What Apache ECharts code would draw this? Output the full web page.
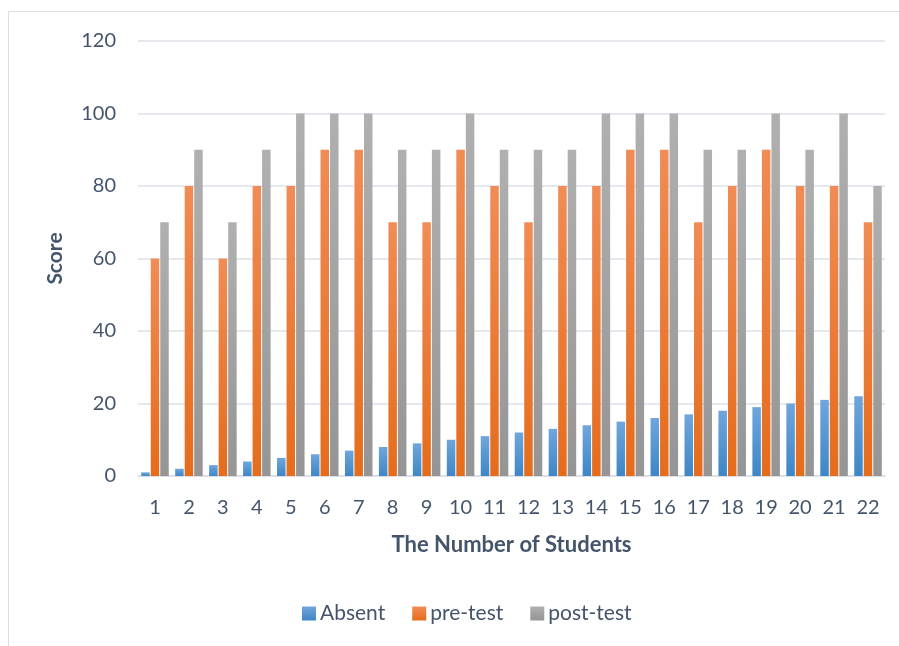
<!DOCTYPE html>
<html>
<head>
<meta charset="utf-8">
<style>html,body{margin:0;padding:0;background:#fff}#c{width:899px;height:646px}</style>
<script src="https://cdn.jsdelivr.net/npm/echarts@6/dist/echarts.min.js"></script>
</head>
<body>
<div id="c"></div>
<script>
const categories = ['1','2','3','4','5','6','7','8','9','10','11','12','13','14','15','16','17','18','19','20','21','22'];
const absent = [1,2,3,4,5,6,7,8,9,10,11,12,13,14,15,16,17,18,19,20,21,22];
const preTest = [60,80,60,80,80,90,90,70,70,90,80,70,80,80,90,90,70,80,90,80,80,70];
const postTest = [70,90,70,90,100,100,100,90,90,100,90,90,90,100,100,100,90,90,100,90,100,80];
const yTicks = [0,20,40,60,80,100,120];

const font = 'Lato, "Liberation Sans", sans-serif';
const txt = '#44546a';
function grad(top, bottom){
  return new echarts.graphic.LinearGradient(0,0,0,1,[{offset:0,color:top},{offset:1,color:bottom}]);
}
const chart = echarts.init(document.getElementById('c'), null, {renderer:'canvas'});
chart.setOption({
  animation:false,
  backgroundColor:'#fff',
  graphic:[{type:'rect',shape:{x:8.5,y:11.5,width:1000,height:1000},style:{fill:'none',stroke:'#d9dde3',lineWidth:1},silent:true,z:-1}],
  grid:{left:138,right:14,top:41,bottom:170},
  legend:{
    data:['Absent','pre-test','post-test'],
    left:297, top:598, itemWidth:14, itemHeight:14, itemGap:27,
    icon:'rect',
    textStyle:{fontFamily:font,fontSize:21,color:txt,padding:[0,0,0,-1]}
  },
  xAxis:{
    type:'category', data:categories,
    name:'The Number of Students', nameLocation:'middle', nameGap:58,
    nameTextStyle:{fontFamily:font,fontSize:22,fontWeight:'bold',color:txt},
    axisLine:{show:true,lineStyle:{color:'#d9dde3',width:1.5}},
    axisTick:{show:false},
    axisLabel:{fontFamily:font,fontSize:20,color:txt,margin:22}
  },
  yAxis:{
    type:'value', min:0, max:120, interval:20,
    name:'Score', nameLocation:'middle', nameGap:72,
    nameTextStyle:{fontFamily:font,fontSize:21,fontWeight:'bold',color:txt},
    axisLine:{show:false}, axisTick:{show:false},
    axisLabel:{fontFamily:font,fontSize:20,color:txt,margin:22,
      formatter:function(v){return yTicks.indexOf(v)>=0?String(v):'';}},
    splitLine:{lineStyle:{color:'#dde2ea',width:1.5}}
  },
  series:[
    {name:'Absent',type:'bar',data:absent,barWidth:8.5,barGap:'12%',
      itemStyle:{color:grad('#6fa6dc','#3e86c6')}},
    {name:'pre-test',type:'bar',data:preTest,barWidth:8.5,barGap:'12%',
      itemStyle:{color:grad('#f08c55','#e56c1b')}},
    {name:'post-test',type:'bar',data:postTest,barWidth:8.5,barGap:'12%',
      itemStyle:{color:grad('#b0b0b0','#959595')}}
  ]
});
</script>
</body>
</html>
